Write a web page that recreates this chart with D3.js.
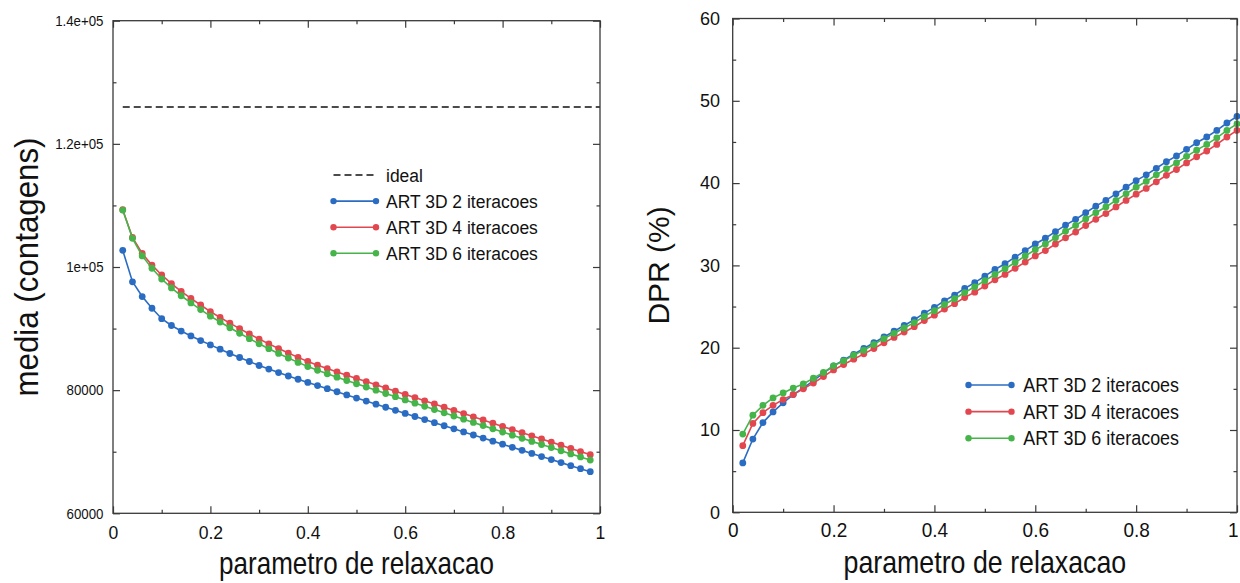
<!DOCTYPE html>
<html>
<head>
<meta charset="utf-8">
<script src="https://cdn.jsdelivr.net/npm/d3@7"></script>
<style>
  html, body { margin: 0; background: #fff; }
  svg { display: block; font-family: 'Liberation Sans', Arial, sans-serif; }
</style>
</head>
<body>
<svg id="chart" width="1240" height="583"></svg>
<script>
// ---- data ----
const xTicks = [0, 0.2, 0.4, 0.6, 0.8, 1]
const xTickLabels = ['0', '0.2', '0.4', '0.6', '0.8', '1']
const xMinorTicks = [0.1, 0.3, 0.5, 0.7, 0.9]

const mediaTicks = [60000, 80000, 100000, 120000, 140000]
const mediaTickLabels = ['60000', '80000', '1e+05', '1.2e+05', '1.4e+05']
const mediaMinorTicks = [70000, 90000, 110000, 130000]
const mediaIdeal = 126000

const dprTicks = [0, 10, 20, 30, 40, 50, 60]
const dprMinorTicks = [5, 15, 25, 35, 45, 55]

const seriesNames = ['ART 3D 2 iteracoes', 'ART 3D 4 iteracoes', 'ART 3D 6 iteracoes']

const mediaX = [0.02, 0.04, 0.06, 0.08, 0.10, 0.12, 0.14, 0.16, 0.18, 0.20,
  0.22, 0.24, 0.26, 0.28, 0.30, 0.32, 0.34, 0.36, 0.38, 0.40,
  0.42, 0.44, 0.46, 0.48, 0.50, 0.52, 0.54, 0.56, 0.58, 0.60,
  0.62, 0.64, 0.66, 0.68, 0.70, 0.72, 0.74, 0.76, 0.78, 0.80,
  0.82, 0.84, 0.86, 0.88, 0.90, 0.92, 0.94, 0.96, 0.98]

const mediaArt2 = [102700, 97600, 95200, 93300, 91600, 90500, 89600, 88800, 88050, 87350,
  86650, 85950, 85300, 84650, 84000, 83420, 82850, 82300, 81770, 81250,
  80740, 80240, 79740, 79230, 78720, 78220, 77720, 77220, 76720, 76220,
  75720, 75220, 74720, 74220, 73720, 73220, 72720, 72220, 71720, 71220,
  70720, 70220, 69720, 69220, 68720, 68230, 67740, 67250, 66760]

const mediaArt4 = [109300, 104800, 102200, 100300, 98700, 97300, 96050, 94900, 93830, 92750,
  91800, 90880, 89990, 89130, 88300, 87510, 86750, 86020, 85320, 84650,
  84060, 83500, 82960, 82430, 81910, 81390, 80870, 80350, 79830, 79310,
  78790, 78270, 77750, 77230, 76710, 76190, 75670, 75150, 74630, 74110,
  73600, 73090, 72580, 72070, 71560, 71050, 70540, 70030, 69520]

const mediaArt6 = [109250, 104650, 101800, 99800, 98050, 96600, 95330, 94160, 93080, 92020,
  91060, 90130, 89230, 88360, 87530, 86730, 85960, 85220, 84510, 83830,
  83230, 82660, 82110, 81570, 81040, 80510, 79990, 79460, 78940, 78410,
  77890, 77370, 76840, 76320, 75800, 75280, 74760, 74240, 73720, 73200,
  72690, 72180, 71680, 71170, 70670, 70160, 69650, 69150, 68650]

const dprX = [0.02, 0.04, 0.06, 0.08, 0.10, 0.12, 0.14, 0.16, 0.18, 0.20,
  0.22, 0.24, 0.26, 0.28, 0.30, 0.32, 0.34, 0.36, 0.38, 0.40,
  0.42, 0.44, 0.46, 0.48, 0.50, 0.52, 0.54, 0.56, 0.58, 0.60,
  0.62, 0.64, 0.66, 0.68, 0.70, 0.72, 0.74, 0.76, 0.78, 0.80,
  0.82, 0.84, 0.86, 0.88, 0.90, 0.92, 0.94, 0.96, 0.98, 1.00]

const dprArt2 = [6.0, 8.9, 10.9, 12.2, 13.3, 14.3, 15.1, 16.0, 16.9, 17.8,
  18.5, 19.2, 19.9, 20.6, 21.3, 22.0, 22.7, 23.4, 24.2, 24.9,
  25.7, 26.4, 27.2, 27.9, 28.7, 29.5, 30.2, 31.0, 31.8, 32.6,
  33.3, 34.1, 34.9, 35.6, 36.4, 37.2, 37.9, 38.7, 39.5, 40.3,
  41.0, 41.8, 42.6, 43.3, 44.1, 44.9, 45.6, 46.4, 47.3, 48.1]

const dprArt4 = [8.1, 10.8, 12.1, 13.0, 13.7, 14.3, 15.0, 15.7, 16.5, 17.3,
  17.95, 18.6, 19.25, 19.9, 20.6, 21.25, 21.9, 22.55, 23.3, 23.95,
  24.7, 25.35, 26.1, 26.75, 27.5, 28.25, 28.9, 29.65, 30.4, 31.15,
  31.8, 32.6, 33.35, 34.05, 34.85, 35.6, 36.3, 37.1, 37.9, 38.65,
  39.35, 40.15, 40.95, 41.65, 42.45, 43.2, 43.9, 44.7, 45.6, 46.4]

const dprArt6 = [9.5, 11.8, 13.0, 13.9, 14.5, 15.1, 15.6, 16.3, 17.0, 17.8,
  18.4, 19.1, 19.7, 20.4, 21.1, 21.75, 22.4, 23.05, 23.8, 24.5,
  25.25, 25.95, 26.7, 27.4, 28.15, 28.9, 29.6, 30.35, 31.15, 31.9,
  32.6, 33.35, 34.15, 34.85, 35.65, 36.4, 37.1, 37.9, 38.7, 39.5,
  40.2, 41.0, 41.75, 42.45, 43.25, 44.0, 44.7, 45.5, 46.4, 47.2]

const seriesColors = ['#2b6cc3', '#e2474f', '#45b449']
const frameColor = '#3a3a3a'

// ---- layout ----
const svg = d3.select('#chart')

const leftPanel = { x0: 113, x1: 600, y0: 20.7, y1: 513.3 }
const rightPanel = { x0: 732.7, x1: 1237, y0: 18.5, y1: 512.3 }

function renderFrame(p) {
  svg.append('rect')
    .attr('x', p.x0)
    .attr('y', p.y0)
    .attr('width', p.x1 - p.x0)
    .attr('height', p.y1 - p.y0)
    .attr('fill', 'none')
    .attr('stroke', frameColor)
    .attr('stroke-width', 1.3)
}

function styleAxis(g) {
  g.select('.domain').remove()
  g.selectAll('.tick line').attr('stroke', frameColor).attr('stroke-width', 1.2)
}

// ticks point inward on all four sides, minor ticks shorter
function renderAxes(p, x, y, opt) {
  const bottom = svg.append('g')
    .attr('transform', `translate(0,${p.y1})`)
    .call(d3.axisBottom(x).tickValues(xTicks).tickFormat((d, i) => xTickLabels[i])
      .tickSize(-7).tickPadding(opt.xPad))
    .call(styleAxis)
    .attr('font-size', opt.xFont)
    .attr('font-family', null)
  bottom.selectAll('text').attr('fill', '#111').attr('transform', `scale(${opt.xScaleX},1)`)
  // the last label sits on the page edge: keep it inside
  if (opt.lastLabelEnd) {
    bottom.selectAll('text').filter(d => d === 1).attr('text-anchor', 'end').attr('x', 1)
  }

  svg.append('g').attr('transform', `translate(0,${p.y1})`)
    .call(d3.axisBottom(x).tickValues(xMinorTicks).tickFormat('').tickSize(-3.5))
    .call(styleAxis)
  svg.append('g').attr('transform', `translate(0,${p.y0})`)
    .call(d3.axisTop(x).tickValues(xTicks).tickFormat('').tickSize(-7))
    .call(styleAxis)
  svg.append('g').attr('transform', `translate(0,${p.y0})`)
    .call(d3.axisTop(x).tickValues(xMinorTicks).tickFormat('').tickSize(-3.5))
    .call(styleAxis)

  const left = svg.append('g')
    .attr('transform', `translate(${p.x0},0)`)
    .call(d3.axisLeft(y).tickValues(opt.yTicks).tickFormat((d, i) => opt.yLabels[i])
      .tickSize(-7).tickPadding(opt.yPad))
    .call(styleAxis)
    .attr('font-size', opt.yFont)
    .attr('font-family', null)
  left.selectAll('text').attr('fill', '#111')
    .attr('x', -opt.yPad / opt.yScaleX)
    .attr('transform', `scale(${opt.yScaleX},1)`)

  svg.append('g').attr('transform', `translate(${p.x0},0)`)
    .call(d3.axisLeft(y).tickValues(opt.yMinor).tickFormat('').tickSize(-3.5))
    .call(styleAxis)
  svg.append('g').attr('transform', `translate(${p.x1},0)`)
    .call(d3.axisRight(y).tickValues(opt.yTicks).tickFormat('').tickSize(-7))
    .call(styleAxis)
  svg.append('g').attr('transform', `translate(${p.x1},0)`)
    .call(d3.axisRight(y).tickValues(opt.yMinor).tickFormat('').tickSize(-3.5))
    .call(styleAxis)
}

function renderSeries(xs, ys, x, y, color) {
  const pts = xs.map((d, i) => [d, ys[i]])
  const line = d3.line().x(d => x(d[0])).y(d => y(d[1]))
  svg.append('path')
    .datum(pts)
    .attr('d', line)
    .attr('fill', 'none')
    .attr('stroke', color)
    .attr('stroke-width', 1.6)
  svg.append('g').selectAll('circle')
    .data(pts)
    .enter()
    .append('circle')
    .attr('cx', d => x(d[0]))
    .attr('cy', d => y(d[1]))
    .attr('r', 3.4)
    .attr('fill', color)
}

function renderLegend(items, lg) {
  items.forEach((it, i) => {
    const cy = lg.y + i * lg.rowH
    svg.append('line')
      .attr('x1', lg.x1).attr('x2', lg.x2)
      .attr('y1', cy).attr('y2', cy)
      .attr('stroke', it.color)
      .attr('stroke-width', it.dashed ? 1.5 : 1.6)
      .attr('stroke-dasharray', it.dashed ? '7,4' : null)
    if (!it.dashed) {
      [lg.x1, lg.x2].forEach(cx => {
        svg.append('circle').attr('cx', cx).attr('cy', cy).attr('r', 3.2).attr('fill', it.color)
      })
    }
    svg.append('text')
      .attr('transform', `translate(${lg.tx},${cy + lg.font * 0.36}) scale(${lg.scaleX},1)`)
      .attr('font-size', lg.font)
      .attr('fill', '#111')
      .text(it.label)
  })
}

function renderTitle(text, x, y, font, scaleX, rotate) {
  svg.append('text')
    .attr('transform', `translate(${x},${y})${rotate ? ' rotate(-90)' : ''} scale(${scaleX},1)`)
    .attr('text-anchor', 'middle')
    .attr('font-size', font)
    .attr('fill', '#111')
    .text(text)
}

// ---- left panel: media ----
const xLeft = d3.scaleLinear().domain([0, 1]).range([leftPanel.x0, leftPanel.x1])
const yLeft = d3.scaleLinear().domain([60000, 140000]).range([leftPanel.y1, leftPanel.y0])

renderAxes(leftPanel, xLeft, yLeft, {
  xFont: 18.5, xPad: 12.6, xScaleX: 0.95,
  yTicks: mediaTicks, yLabels: mediaTickLabels, yMinor: mediaMinorTicks,
  yFont: 15, yPad: 9.5, yScaleX: 0.885
})

svg.append('line')
  .attr('x1', xLeft(0.02)).attr('x2', xLeft(1))
  .attr('y1', yLeft(mediaIdeal)).attr('y2', yLeft(mediaIdeal))
  .attr('stroke', '#111')
  .attr('stroke-width', 1.5)
  .attr('stroke-dasharray', '7,4')

renderSeries(mediaX, mediaArt2, xLeft, yLeft, seriesColors[0])
renderSeries(mediaX, mediaArt4, xLeft, yLeft, seriesColors[1])
renderSeries(mediaX, mediaArt6, xLeft, yLeft, seriesColors[2])
renderFrame(leftPanel)

renderLegend([
  { label: 'ideal', color: '#111', dashed: true },
  { label: seriesNames[0], color: seriesColors[0] },
  { label: seriesNames[1], color: seriesColors[1] },
  { label: seriesNames[2], color: seriesColors[2] }
], { x1: 333.5, x2: 376, tx: 386, y: 175, rowH: 26.1, font: 19, scaleX: 0.92 })

renderTitle('parametro de relaxacao', (leftPanel.x0 + leftPanel.x1) / 2, 574, 31, 0.84, false)
renderTitle('media (contagens)', 37.6, (leftPanel.y0 + leftPanel.y1) / 2, 34, 0.92, true)

// ---- right panel: DPR ----
const xRight = d3.scaleLinear().domain([0, 1]).range([rightPanel.x0, rightPanel.x1])
const yRight = d3.scaleLinear().domain([0, 60]).range([rightPanel.y1, rightPanel.y0])

renderAxes(rightPanel, xRight, yRight, {
  xFont: 20, xPad: 11, xScaleX: 0.95, lastLabelEnd: true,
  yTicks: dprTicks, yLabels: dprTicks.map(String), yMinor: dprMinorTicks,
  yFont: 18, yPad: 12.7, yScaleX: 1
})

renderSeries(dprX, dprArt2, xRight, yRight, seriesColors[0])
renderSeries(dprX, dprArt4, xRight, yRight, seriesColors[1])
renderSeries(dprX, dprArt6, xRight, yRight, seriesColors[2])
renderFrame(rightPanel)

renderLegend([
  { label: seriesNames[0], color: seriesColors[0] },
  { label: seriesNames[1], color: seriesColors[1] },
  { label: seriesNames[2], color: seriesColors[2] }
], { x1: 968.5, x2: 1011.5, tx: 1023.3, y: 385, rowH: 26.65, font: 19.5, scaleX: 0.92 })

renderTitle('parametro de relaxacao', (rightPanel.x0 + rightPanel.x1) / 2, 573, 31, 0.864, false)
renderTitle('DPR (%)', 669.4, (rightPanel.y0 + rightPanel.y1) / 2, 30, 1, true)
</script>
</body>
</html>
